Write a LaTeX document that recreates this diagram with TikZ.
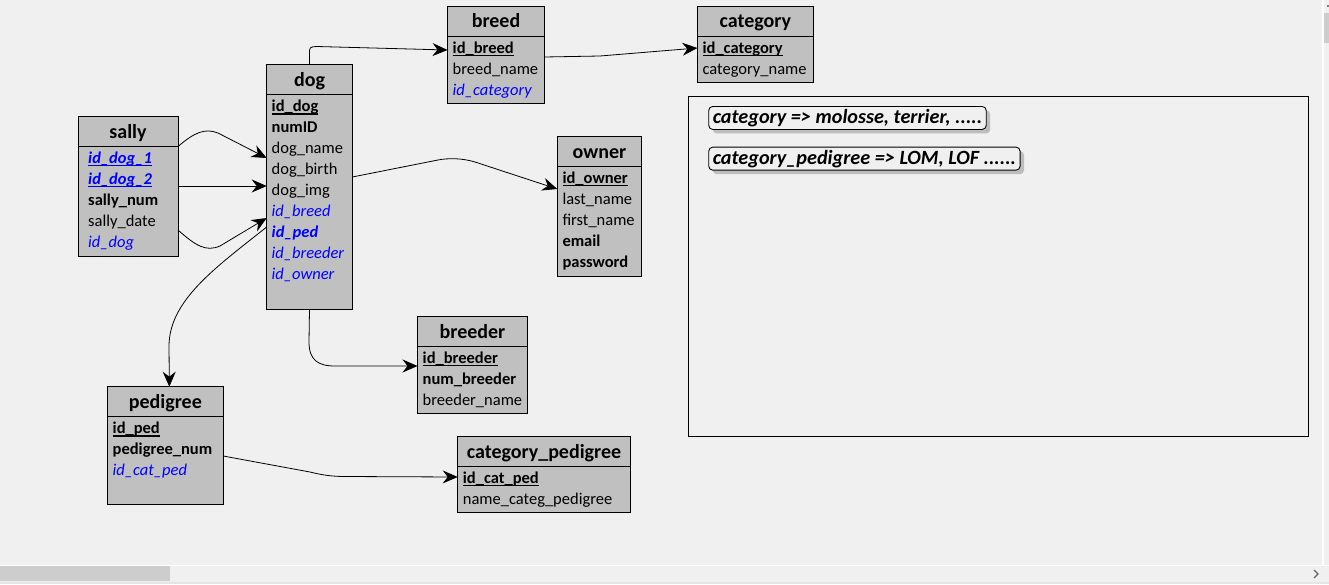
\documentclass[tikz,border=0pt]{standalone}
\usepackage{fontspec}
\setmainfont{Carlito}
\usetikzlibrary{arrows.meta,shadows}
\definecolor{bg}{HTML}{F0F0F0}
\definecolor{tblgray}{HTML}{C0C0C0}
\definecolor{fkblue}{HTML}{0000FF}
\definecolor{scrollgray}{HTML}{CDCDCD}
\definecolor{shadowgray}{HTML}{BDBDBD}
\newcommand\ulx[1]{\setbox0\hbox{#1}\rlap{\rule[-2.8pt]{\wd0}{1.3pt}}\box0}
\newcommand\pk[1]{\ulx{\bfseries #1}}
\newcommand\fk[1]{\textcolor{fkblue}{\textit{#1}}}
\newcommand\fkb[1]{\textcolor{fkblue}{\textbf{\textit{#1}}}}
\newcommand\fkpk[1]{\textcolor{fkblue}{\ulx{\bfseries\itshape #1}}}
\newcommand\mktbl[6]{%
  \node[tblbox, minimum width={#3-#2}, minimum height=30] (#1H) at (#2,#4) {};
  \node[tblbox, minimum width={#3-#2}, minimum height={#5-#4-30}] (#1) at (#2,#4+30) {};
  \node[hdrtext] (#1T) at ({(#2+#3)/2},#4+21.5) {#6};
}
\newcommand\rw[4]{\node[rowtext] (#1) at (#2,#3) {#4};}
\tikzset{
  tblbox/.style={draw=black, fill=tblgray, line width=1pt, inner sep=0pt, outer sep=0pt, anchor=north west},
  hdrtext/.style={anchor=base, inner sep=0pt, font=\fontsize{20}{22}\selectfont\bfseries},
  rowtext/.style={anchor=base west, inner sep=0pt, font=\fontsize{16.5}{18}\selectfont},
  conn/.style={draw=black, line width=0.8pt, -{Stealth[length=15pt,width=13pt,inset=5pt]}},
  notelbl/.style={draw=black, line width=0.9pt, rounded corners=4pt, fill=bg, anchor=north west,
    inner xsep=4pt, inner ysep=0pt, minimum height=23, font=\fontsize{20.2}{22}\selectfont\bfseries\itshape,
    drop shadow={shadow xshift=4pt, shadow yshift=-4pt, fill=shadowgray, opacity=1}},
}
\begin{document}
\begin{tikzpicture}[x=1pt,y=-1pt]
\useasboundingbox (0,0) rectangle (1329,584);
\fill[bg] (0,0) rectangle (1329,584);

% scrollbars
\fill[white] (1322,0) rectangle (1323.5,565);
\fill[scrollgray] (1324,13) rectangle (1329,43);
\fill[gray] (1327,5) rectangle (1329,7);
\fill[white] (0,564.5) rectangle (1329,566);
\fill[scrollgray] (0,566) rectangle (170,581);
\fill[gray!20] (0,582) rectangle (1329,584);
\draw[gray!80!black, line width=1.2pt] (1314,570) -- (1318,574) -- (1314,578);

% tables
\mktbl{sally}{78}{178}{116.5}{256}{sally}
\rw{sally1}{88}{163.3}{\fkpk{id\_dog\_1}}
\rw{sally2}{88}{184.3}{\fkpk{id\_dog\_2}}
\rw{sally3}{88}{205.3}{\textbf{sally\_num}}
\rw{sally4}{88}{226.3}{sally\_date}
\rw{sally5}{88}{247.3}{\fk{id\_dog}}

\mktbl{dog}{266.7}{352.3}{64.7}{309}{dog}
\rw{dog1}{271.5}{111.7}{\pk{id\_dog}}
\rw{dog2}{271.5}{132.7}{\textbf{numID}}
\rw{dog3}{271.5}{153.7}{dog\_name}
\rw{dog4}{271.5}{174.7}{dog\_birth}
\rw{dog5}{271.5}{195.7}{dog\_img}
\rw{dog6}{271.5}{216.7}{\fk{id\_breed}}
\rw{dog7}{271.5}{237.7}{\fkb{id\_ped}}
\rw{dog8}{271.5}{258.7}{\fk{id\_breeder}}
\rw{dog9}{271.5}{279.7}{\fk{id\_owner}}

\mktbl{breed}{447.5}{544.5}{6}{103.5}{breed}
\rw{breed1}{452.5}{53.3}{\pk{id\_breed}}
\rw{breed2}{452.5}{74.3}{breed\_name}
\rw{breed3}{452.5}{95.3}{\fk{id\_category}}

\mktbl{category}{697.4}{813.4}{6}{82.5}{category}
\rw{category1}{702.4}{53.3}{\pk{id\_category}}
\rw{category2}{702.4}{74.3}{category\_name}

\mktbl{owner}{557.3}{641.7}{136.5}{276}{owner}
\rw{owner1}{562.3}{183.3}{\pk{id\_owner}}
\rw{owner2}{562.3}{204.3}{last\_name}
\rw{owner3}{562.3}{225.3}{first\_name}
\rw{owner4}{562.3}{246.3}{\textbf{email}}
\rw{owner5}{562.3}{267.3}{\textbf{password}}

\mktbl{breeder}{417.5}{527.5}{316.5}{413.5}{breeder}
\rw{breeder1}{422.5}{363.5}{\pk{id\_breeder}}
\rw{breeder2}{422.5}{384.5}{\textbf{num\_breeder}}
\rw{breeder3}{422.5}{405.5}{breeder\_name}

\mktbl{pedigree}{107.5}{223.2}{386.7}{504}{pedigree}
\rw{pedigree1}{112.5}{433.7}{\pk{id\_ped}}
\rw{pedigree2}{112.5}{454.7}{\textbf{pedigree\_num}}
\rw{pedigree3}{112.5}{475.7}{\fk{id\_cat\_ped}}

\mktbl{catped}{457.7}{630.4}{436.5}{512.7}{category\_pedigree}
\rw{catped1}{462.7}{483.5}{\pk{id\_cat\_ped}}
\rw{catped2}{462.7}{504.5}{name\_categ\_pedigree}

% note area
\node[draw=black, line width=1pt, fill=bg, anchor=north west, inner sep=0pt, minimum width=620, minimum height=340] (note) at (688.3,96) {};
\node[notelbl] (lab1) at (708.3,106) {category => molosse, terrier, .....};
\node[notelbl] (lab2) at (708.3,146.7) {category\_pedigree => LOM, LOF ......};

% connectors
\draw[conn] (dogH.north) -- (309.5,54) .. controls (309.5,47) .. (317,46.5) -- (breed.west |- 0,50);
\draw[conn] (breed.east |- 0,57) -- (600,56) -- (category.west |- 0,48);
\draw[conn] (sally.north east) .. controls (195,132) and (205,128) .. (218,133) -- (dog.west |- 0,158);
\draw[conn] (sally.east |- 0,186) -- (dog.west |- 0,186);
\draw[conn] (sally.east |- 0,230) .. controls (196,246) and (206,252) .. (220,246) -- (dog.west |- 0,218);
\draw[conn] (dog.west |- 0,227) .. controls (215,268) and (170,300) .. (169,345) -- ([xshift=4pt]pedigreeH.north);
\draw[conn] (dog.east |- 0,177) -- (438,160) .. controls (448,158) and (462,158) .. (475,162) -- (owner.west |- 0,189);
\draw[conn] (dog.south) -- (309,342) .. controls (309,360) and (318,366) .. (335,366) -- (breeder.west |- 0,366);
\draw[conn] (pedigree.east |- 0,456) -- (310,472) .. controls (322,475) and (332,476.5) .. (345,476.5) -- (catped.west |- 0,477);
\end{tikzpicture}
\end{document}
